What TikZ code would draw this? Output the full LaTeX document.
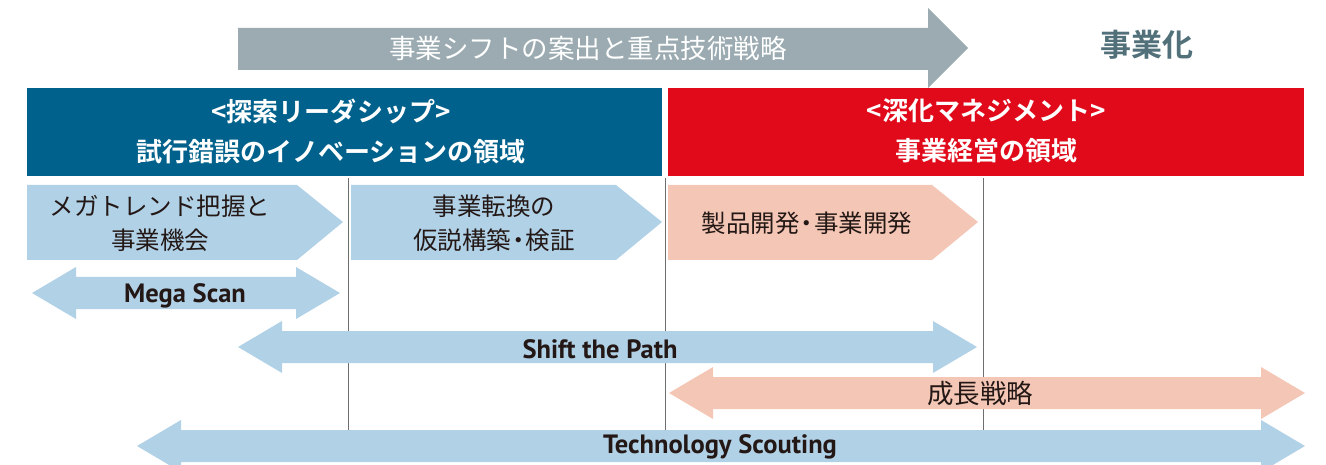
\documentclass[tikz,border=0pt]{standalone}
\usepackage{fontspec}
\setmainfont{Noto Sans CJK JP}
\newfontfamily\jpb{Noto Sans CJK JP Bold}
\newfontfamily\latb{PT Sans Bold}
\definecolor{grayarrow}{RGB}{155,171,177}
\definecolor{deepblue}{RGB}{0,98,140}
\definecolor{deepred}{RGB}{224,10,26}
\definecolor{lightblue}{RGB}{177,209,231}
\definecolor{lightpink}{RGB}{244,198,181}
\definecolor{darktext}{RGB}{35,24,21}
\definecolor{bizcol}{RGB}{82,112,122}
\definecolor{vline}{RGB}{110,110,110}
\newcommand\myDot{\kern-0.2em・\kern-0.2em}
\newcommand\myDArrow[4]{% left tip x, right tip x, center y, color
  \fill[#4] (#1,#3) -- ({#1+44},{#3-26}) -- ({#1+44},{#3-16}) -- ({#2-44},{#3-16}) -- ({#2-44},{#3-26})
    -- (#2,#3) -- ({#2-44},{#3+26}) -- ({#2-44},{#3+16}) -- ({#1+44},{#3+16}) -- ({#1+44},{#3+26}) -- cycle;}
\newcommand\myPent[3]{% left x, tip x, color
  \fill[#3] (#1,185) -- ({#2-46},185) -- (#2,222) -- ({#2-46},260) -- (#1,260) -- cycle;}
\begin{document}
\begin{tikzpicture}[x=1pt,y=-1pt,
  hdr/.style={text=white,align=center,font=\jpb\fontsize{26}{40}\selectfont},
  stage/.style={text=darktext,align=center,font=\fontsize{24.5}{34}\selectfont},
  lab/.style={text=darktext,font=\latb\fontsize{26.5}{28}\selectfont}]
\useasboundingbox (0,0) rectangle (1326,465);
\clip (0,0) rectangle (1326,465);
% top gray arrow
\fill[grayarrow] (238,28) -- (928,28) -- (928,8) -- (968,48) -- (928,88) -- (928,70) -- (238,70) -- cycle;
\node[text=white,font=\fontsize{26.5}{28}\selectfont] (topt) at (588,48) {事業シフトの案出と重点技術戦略};
\node[text=bizcol,font=\jpb\fontsize{31}{34}\selectfont] (biz) at (1147,45) {事業化};
% headers
\fill[deepblue] (27,88) rectangle (662,176);
\fill[deepred] (668,88) rectangle (1304,176);
\node[hdr] (h1) at (331,131) {<探索リーダシップ>\\試行錯誤のイノベーションの領域};
\node[hdr] (h2) at (986,131) {<深化マネジメント>\\事業経営の領域};
% vertical lines
\draw[vline,line width=1pt] (348,178) -- (348,430);
\draw[vline,line width=1pt] (665,178) -- (665,430);
\draw[vline,line width=1pt] (983,178) -- (983,430);
% stage pentagons
\myPent{27}{343}{lightblue}
\myPent{351}{662}{lightblue}
\myPent{668}{978}{lightpink}
\node[stage] (s1) at (160,223) {メガトレンド把握と\\事業機会};
\node[stage] (s2) at (494,223) {事業転換の\\仮説構築\myDot 検証};
\node[stage] (s3) at (807,223) {製品開発\myDot 事業開発};
% double arrows
\myDArrow{32}{340}{293}{lightblue}
\myDArrow{238}{977}{347}{lightblue}
\myDArrow{669}{1305}{393}{lightpink}
\myDArrow{137}{1305}{446}{lightblue}
\node[lab] (l1) at (185,296) {Mega Scan};
\node[lab] (l2) at (600,349) {Shift the Path};
\node[text=darktext,font=\fontsize{26.5}{28}\selectfont] (l3) at (980,393) {成長戦略};
\node[lab] (l4) at (720,447) {Technology Scouting};
\end{tikzpicture}
\end{document}
